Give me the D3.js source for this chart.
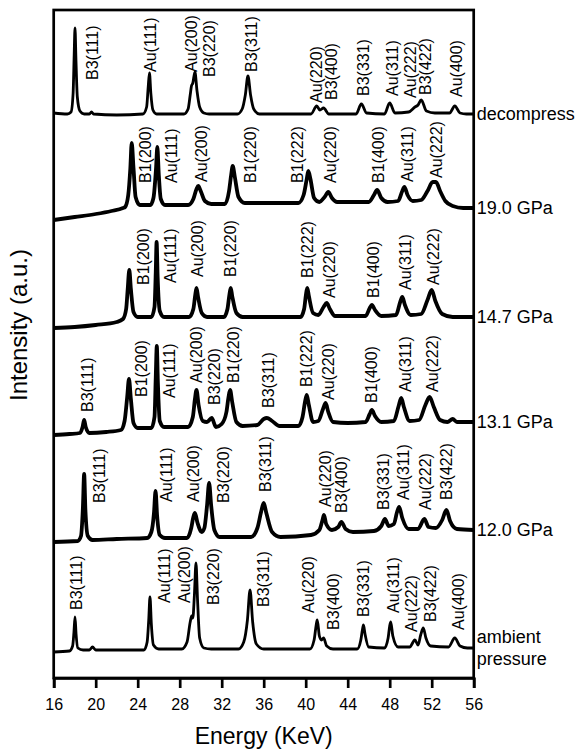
<!DOCTYPE html>
<html>
<head>
<meta charset="utf-8">
<script src="https://cdn.jsdelivr.net/npm/d3@7"></script>
<style>
  body { margin: 0; background: #fff; }
  svg text { font-family: "Liberation Sans", Arial, sans-serif; fill: #000; }
</style>
</head>
<body>
<svg id="chart" width="577" height="749"></svg>
<script>
// x tick labels (keV)
const energyTicks = [16, 20, 24, 28, 32, 36, 40, 44, 48, 52, 56];

// spectra names, top to bottom
const spectraNames = ["decompress", "19.0 GPa", "14.7 GPa", "13.1 GPa", "12.0 GPa", "ambient pressure"];
// vertical stacking offset of each spectrum (a.u.)
const offsets = [563, 475, 361, 251, 140, 28];
const noisy = [false, true, true, true, true, false];

// [energy keV, intensity a.u. above offset]
const decompress = [[16, 2], [17.3, 1], [17.65, 3], [17.85, 22], [17.95, 60], [18.03, 87], [18.12, 55], [18.25, 18], [18.5, 4], [18.9, 1], [19.4, 1], [19.6, 3], [19.8, 1], [22, 0], [24.5, 1], [24.85, 8], [25.0, 28], [25.12, 42], [25.25, 22], [25.45, 5], [25.8, 1], [28.4, 1], [28.8, 6], [29.0, 20], [29.12, 29], [29.25, 32], [29.45, 43], [29.65, 24], [29.9, 8], [30.3, 2], [30.8, 1], [33.5, 1], [33.95, 6], [34.25, 20], [34.5, 39], [34.75, 20], [35.05, 6], [35.6, 1], [40.5, 1], [41.05, 9], [41.35, 5], [41.7, 7], [42.2, 1], [44.8, 1], [45.3, 11], [45.8, 2], [47.5, 1], [48.0, 12], [48.5, 2], [49.8, 3], [50.4, 8], [50.7, 10], [51.0, 15], [51.5, 4], [52.3, 2], [53.7, 2], [54.2, 9], [54.7, 2], [55.3, 1], [56, 1]];
const gpa190 = [[16, -17], [18, -14], [20, -11], [21.5, -8], [22.6, -5], [22.8, -4], [23.1, 8], [23.3, 35], [23.43, 60], [23.6, 35], [23.8, 6], [24.2, -2], [25.2, -2], [25.5, 5], [25.75, 35], [25.87, 56], [26.0, 30], [26.2, 4], [26.6, -2], [28.8, -2], [29.3, 4], [29.6, 14], [29.77, 17], [30.0, 12], [30.4, 2], [31, -1], [32.3, -1], [32.7, 12], [32.9, 28], [33.05, 37], [33.25, 26], [33.6, 6], [34.2, 0], [39.3, 0], [39.8, 8], [40.1, 24], [40.25, 32], [40.45, 24], [40.8, 5], [41.3, 1], [41.8, 6], [42.15, 11], [42.5, 5], [43.0, 1], [46.0, 1], [46.5, 8], [46.8, 13], [47.2, 5], [47.8, 1], [48.8, 2], [49.2, 12], [49.4, 16], [49.7, 8], [50.2, 2], [51.0, 3], [51.6, 12], [52.1, 21], [52.4, 21], [52.8, 12], [53.3, 2], [54.0, -3], [55, -5], [56, -5]];
const gpa147 = [[16, -11], [18, -10], [20, -8], [22, -5], [22.6, -2], [22.9, 8], [23.05, 28], [23.2, 47], [23.35, 28], [23.6, 5], [24.0, 0], [25.3, 0], [25.6, 10], [25.72, 45], [25.8, 75], [25.9, 40], [26.1, 6], [26.5, 0], [28.9, 0], [29.3, 8], [29.48, 22], [29.6, 29], [29.75, 20], [30.1, 4], [30.6, 0], [32.2, 0], [32.55, 8], [32.73, 22], [32.86, 29], [33.0, 21], [33.4, 4], [34, 0], [39.5, 0], [39.85, 8], [40.02, 22], [40.15, 29], [40.3, 21], [40.7, 4], [41.2, 2], [41.7, 10], [42.0, 14], [42.3, 8], [42.8, 1], [45.7, 1], [46.1, 9], [46.3, 12], [46.6, 7], [47.2, 1], [48.6, 2], [49.0, 15], [49.2, 20], [49.45, 12], [50.0, 2], [51.0, 3], [51.6, 17], [52.0, 27], [52.35, 16], [53.0, 3], [54, 0], [56, 0]];
const gpa131 = [[16, -8], [17.5, -7], [18.5, -6], [18.75, 0], [18.9, 7], [19.05, 0], [19.4, -6], [21, -5], [22.4, -3], [22.75, 6], [23.0, 30], [23.17, 48], [23.35, 28], [23.6, 4], [24.0, -1], [25.3, -1], [25.6, 10], [25.72, 50], [25.82, 81], [25.92, 45], [26.1, 6], [26.5, 0], [28.8, 0], [29.25, 10], [29.45, 28], [29.6, 37], [29.8, 22], [30.2, 6], [30.6, 5], [31.05, 9], [31.45, 0], [32.0, 3], [32.45, 15], [32.65, 30], [32.8, 37], [33.0, 25], [33.4, 5], [34, 1], [35.4, 2], [36.0, 8], [36.3, 9], [36.8, 6], [37.5, 1], [39.3, 1], [39.7, 10], [39.95, 26], [40.1, 32], [40.3, 22], [40.7, 5], [41.2, 6], [41.65, 18], [41.9, 24], [42.15, 15], [42.6, 5], [44, 4], [45.7, 5], [46.1, 13], [46.3, 17], [46.6, 11], [47.2, 5], [48.4, 6], [48.85, 21], [49.1, 29], [49.35, 20], [49.9, 6], [50.8, 7], [51.4, 22], [51.8, 30], [52.2, 20], [52.8, 7], [53.5, 5], [54.0, 8], [54.4, 5], [56, 5]];
const gpa120 = [[16, -4], [18.3, -3], [18.6, 2], [18.78, 30], [18.9, 64], [19.02, 28], [19.25, 2], [19.7, -2], [22, -1], [24.9, 0], [25.3, 6], [25.55, 25], [25.7, 47], [25.85, 22], [26.1, 3], [26.6, 0], [28.7, 0], [29.1, 10], [29.3, 21], [29.45, 25], [29.7, 15], [30.1, 6], [30.35, 10], [30.6, 32], [30.8, 55], [31.0, 32], [31.3, 8], [31.8, 1], [34.8, 1], [35.4, 10], [35.75, 26], [36.0, 35], [36.25, 25], [36.8, 6], [37.6, 1], [40.5, 3], [41.3, 8], [41.6, 18], [41.74, 23], [41.95, 14], [42.5, 8], [43.1, 11], [43.4, 16], [43.8, 9], [44.5, 6], [46.5, 7], [47.2, 12], [47.55, 19], [47.9, 12], [48.4, 14], [48.7, 26], [48.9, 31], [49.2, 20], [49.8, 9], [50.7, 9], [51.3, 19], [51.7, 11], [52.4, 10], [53.0, 18], [53.4, 28], [53.75, 17], [54.4, 9], [56, 8]];
const ambient = [[16, -2], [17.5, -1], [17.8, 4], [17.93, 18], [18.03, 33], [18.13, 16], [18.3, 2], [18.8, 0], [19.4, 0], [19.7, 3], [20.0, 0], [22, 0], [24.6, 0], [24.9, 8], [25.05, 30], [25.17, 53], [25.3, 26], [25.5, 5], [26.0, 1], [28.2, 1], [28.7, 8], [29.0, 28], [29.14, 34], [29.25, 32], [29.4, 55], [29.55, 87], [29.7, 50], [29.9, 12], [30.3, 2], [31, 1], [33.6, 1], [34.1, 8], [34.45, 30], [34.7, 60], [34.95, 28], [35.3, 6], [36, 1], [40.4, 1], [40.8, 10], [41.0, 25], [41.1, 30], [41.3, 14], [41.5, 10], [41.7, 12], [42.0, 4], [42.6, 1], [44.9, 1], [45.25, 10], [45.4, 20], [45.5, 25], [45.65, 16], [46.0, 3], [47.5, 2], [47.85, 12], [48.0, 24], [48.1, 28], [48.3, 14], [48.8, 3], [49.9, 3], [50.4, 10], [50.7, 5], [50.95, 15], [51.2, 22], [51.45, 12], [51.9, 4], [53.6, 3], [54.2, 12], [54.7, 4], [55.4, 2], [56, 2]];

// peak labels: [text, energy keV, height where text starts (a.u. above offset)]
const decompressLabels = [["B3(111)", 19.71, 35], ["Au(111)", 25.17, 43], ["Au(200)", 29.14, 43], ["B3(220)", 30.79, 38], ["B3(311)", 34.86, 43], ["Au(220)", 41.05, 12], ["B3(400)", 42.48, 15], ["B3(331)", 45.46, 19], ["Au(311)", 48.22, 19], ["Au(222)", 49.93, 17], ["B3(422)", 51.36, 20], ["Au(400)", 54.38, 18]];
const gpa190Labels = [["B1(200)", 24.7, 20], ["Au(111)", 27.24, 20], ["Au(200)", 30.1, 21], ["B1(220)", 34.7, 20], ["B1(222)", 39.2, 20], ["Au(220)", 42.31, 20], ["B1(400)", 46.91, 20], ["Au(311)", 49.68, 21], ["Au(222)", 52.48, 25]];
const gpa147Labels = [["B1(200)", 24.53, 32], ["Au(111)", 27.08, 34], ["Au(200)", 29.68, 40], ["B1(220)", 32.86, 40], ["B1(222)", 40.15, 39], ["Au(220)", 42.25, 19], ["B1(400)", 46.44, 19], ["Au(311)", 49.46, 27], ["Au(222)", 52.15, 32]];
const gpa131Labels = [["B3(111)", 19.2, 15], ["B1(200)", 24.31, 30], ["Au(111)", 27.01, 29], ["Au(200)", 29.62, 44], ["B3(220)", 31.27, 22], ["B1(220)", 33.1, 44], ["B3(311)", 36.44, 19], ["B1(222)", 40.1, 40], ["Au(220)", 42.15, 27], ["B1(400)", 46.29, 24], ["Au(311)", 49.46, 35], ["Au(222)", 52.06, 35]];
const gpa120Labels = [["B3(111)", 20.34, 35], ["Au(111)", 26.7, 36], ["Au(200)", 29.3, 36], ["B3(220)", 32.15, 35], ["B3(311)", 36.12, 46], ["Au(220)", 41.84, 31], ["B3(400)", 43.43, 25], ["B3(331)", 47.39, 28], ["Au(311)", 49.3, 38], ["Au(222)", 51.36, 28], ["B3(422)", 53.43, 38]];
const ambientLabels = [["B3(111)", 18.19, 40], ["Au(111)", 26.5, 47], ["Au(200)", 28.41, 47], ["B3(220)", 31.2, 45], ["B3(311)", 35.96, 43], ["Au(220)", 40.25, 37], ["B3(400)", 42.63, 20], ["B3(331)", 45.49, 33], ["Au(311)", 48.34, 37], ["Au(222)", 50.1, 18], ["B3(422)", 51.84, 28], ["Au(400)", 54.53, 20]];

const spectra = [decompress, gpa190, gpa147, gpa131, gpa120, ambient];
const peakLabels = [decompressLabels, gpa190Labels, gpa147Labels, gpa131Labels, gpa120Labels, ambientLabels];

const margin = { top: 10, right: 103.3, bottom: 71, left: 53.7 },
    W = 577, H = 749,
    w = W - margin.left - margin.right,
    h = H - margin.top - margin.bottom;

const svg = d3.select("#chart");
const g = svg.append("g")
    .attr("transform", "translate(" + margin.left + "," + margin.top + ")");

const xScale = d3.scaleLinear().domain([16, 56]).range([0, w]);
const yScale = d3.scaleLinear().domain([0, 668]).range([h, 0]);

// spectra
const line = d3.line()
    .x(d => xScale(d[0]))
    .curve(d3.curveMonotoneX);

spectra.forEach((s, i) => {
    g.append("path")
        .datum(s)
        .attr("fill", "none")
        .attr("stroke", "#000")
        .attr("stroke-width", noisy[i] ? 3.8 : 2.8)
        .attr("stroke-linejoin", "round")
        .attr("d", line.y(d => yScale(offsets[i] + d[1])));
});

// peak labels
peakLabels.forEach((labs, i) => {
    g.selectAll(null)
        .data(labs)
        .enter()
        .append("text")
        .attr("transform", d => "translate(" + xScale(d[1]) + "," + yScale(offsets[i] + d[2]) + ") rotate(-90)")
        .attr("dy", "0.35em")
        .style("font-size", "16px")
        .text(d => d[0]);
});

// pressure labels at right end
spectraNames.forEach((name, i) => {
    const last = spectra[i][spectra[i].length - 1];
    const yy = yScale(offsets[i] + last[1]);
    const t = g.append("text")
        .attr("x", w + 3)
        .attr("y", yy)
        .style("font-size", "18px");
    if (name === "ambient pressure") {
        t.append("tspan").attr("x", w + 3).attr("dy", "-0.3em").text("ambient");
        t.append("tspan").attr("x", w + 3).attr("dy", "1.25em").text("pressure");
    } else {
        t.attr("dy", "0.35em").text(name);
    }
});

// frame
g.append("rect")
    .attr("width", w)
    .attr("height", h)
    .attr("fill", "none")
    .attr("stroke", "#000")
    .attr("stroke-width", 2.7);

// x axis
const xAxis = d3.axisBottom(xScale)
    .tickValues(energyTicks)
    .tickSize(10)
    .tickPadding(11);

const gX = g.append("g")
    .attr("transform", "translate(0," + h + ")")
    .call(xAxis);
gX.select(".domain").attr("stroke-width", 2.7);
gX.selectAll(".tick line").attr("stroke-width", 2.7);
gX.selectAll(".tick text")
    .style("font-size", "16px")
    .style("font-family", '"Liberation Sans", Arial, sans-serif');

// axis titles
svg.append("text")
    .attr("x", margin.left + w / 2)
    .attr("y", 744)
    .attr("text-anchor", "middle")
    .style("font-size", "23px")
    .text("Energy (KeV)");

svg.append("text")
    .attr("transform", "translate(27," + 325 + ") rotate(-90)")
    .attr("text-anchor", "middle")
    .style("font-size", "24px")
    .text("Intensity (a.u.)");
</script>
</body>
</html>
